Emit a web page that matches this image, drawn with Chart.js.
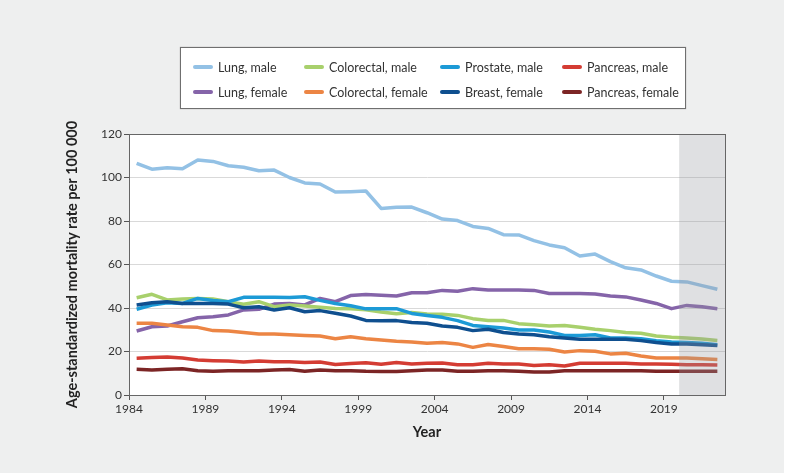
<!DOCTYPE html>
<html>
<head>
<meta charset="utf-8">
<script src="https://cdn.jsdelivr.net/npm/chart.js@4.4.1/dist/chart.umd.min.js"></script>
<style>
  body { margin: 0; background: #fff; font-family: Lato, sans-serif; }
  #bg { position: absolute; left: 0; top: 0; width: 784px; height: 473px; background: #eeefef; }
  #wrap { position: absolute; left: 0; top: 0; width: 791px; height: 473px; }
  #legend {
    position: absolute; left: 180px; top: 47px; width: 504px; height: 60px;
    background: #fff; border: 1px solid #6f6f6f; box-shadow: 0 0 1px #999;
  }
  .item { position: absolute; display: flex; align-items: center; font-size: 12.5px; color: #333; white-space: nowrap; }
  .item span.sw { display: inline-block; width: 20px; height: 4px; border-radius: 2px; margin-right: 5px; }
</style>
</head>
<body>
<div id="bg"></div>
<div id="wrap"><canvas id="chart"></canvas></div>
<div id="legend"></div>
<script>
const YEARS = [];
for (let y = 1984; y <= 2022; y++) YEARS.push(y);
const TICK_YEARS = [1984, 1989, 1994, 1999, 2004, 2009, 2014, 2019];
const PROJECTION_START = 2020;

const LUNG_MALE = [106.5, 103.8, 104.5, 104, 108, 107.4, 105.4, 104.7, 103.1, 103.4, 100, 97.5, 97, 93.3, 93.5, 93.8, 85.8, 86.3, 86.4, 83.8, 80.9, 80.2, 77.5, 76.6, 73.7, 73.6, 71, 69, 67.7, 63.9, 64.8, 61.3, 58.5, 57.5, 54.7, 52.3, 52, 50.3, 48.6];
const COLORECTAL_MALE = [44.7, 46.3, 43.7, 44.1, 44.4, 44.1, 42.9, 41.7, 42.9, 40.6, 41.4, 40.9, 40.3, 39.8, 39.6, 39.2, 38.2, 37.4, 37.9, 37.2, 37.1, 36.6, 35.1, 34.3, 34.3, 32.8, 32.3, 31.7, 32, 31.1, 30.2, 29.6, 28.7, 28.4, 27.1, 26.5, 26.2, 25.7, 25.1];
const PROSTATE_MALE = [39.4, 41.4, 42.4, 42.1, 44.4, 43.4, 42.9, 44.9, 44.9, 44.9, 44.8, 45.2, 43.5, 42.1, 41, 39.6, 39.6, 39.7, 37.5, 36.6, 35.7, 34.2, 32, 31.4, 30.8, 29.9, 29.9, 29, 27.4, 27.4, 27.7, 26.2, 26.2, 25.9, 25, 24.4, 24.1, 23.8, 23.1];
const PANCREAS_MALE = [16.9, 17.2, 17.5, 17, 16.1, 15.8, 15.6, 15.2, 15.6, 15.3, 15.3, 14.9, 15.2, 14, 14.5, 14.8, 14.1, 14.9, 14.3, 14.6, 14.7, 13.9, 13.9, 14.6, 14.3, 14.3, 13.6, 13.9, 13.3, 14.6, 14.6, 14.6, 14.6, 14.3, 14.3, 14.1, 13.9, 13.9, 13.8];
const LUNG_FEMALE = [29.4, 31.4, 31.7, 33.7, 35.5, 36, 36.8, 39.1, 39.4, 41.8, 42.1, 41.4, 44.4, 42.9, 45.7, 46.2, 45.9, 45.5, 47, 47, 48.1, 47.7, 48.9, 48.3, 48.3, 48.3, 48.1, 46.7, 46.7, 46.7, 46.4, 45.5, 45.1, 43.7, 42.1, 39.7, 41.2, 40.6, 39.7];
const COLORECTAL_FEMALE = [33, 33, 32.2, 31.4, 31.1, 29.6, 29.4, 28.7, 28, 28, 27.7, 27.4, 27.1, 25.9, 26.8, 25.9, 25.3, 24.7, 24.4, 23.8, 24.1, 23.5, 21.9, 23.2, 22.3, 21.3, 21.3, 21, 19.8, 20.4, 20.1, 18.9, 19.2, 17.9, 17, 17, 17, 16.7, 16.3];
const BREAST_FEMALE = [41.4, 42.4, 42.9, 42.1, 42.1, 42.1, 41.8, 40.1, 40.6, 39.1, 40.1, 38.3, 38.8, 37.6, 36.3, 34.3, 34.1, 34.2, 33.3, 33, 31.7, 31.1, 29.6, 30.2, 28.7, 28, 27.7, 26.8, 26.2, 25.6, 25.6, 25.6, 25.6, 25, 24.1, 23.4, 23.4, 23.1, 22.8];
const PANCREAS_FEMALE = [11.8, 11.5, 11.8, 12.1, 11.2, 10.9, 11.2, 11.2, 11.2, 11.5, 11.7, 10.9, 11.5, 11.1, 11.2, 10.9, 10.8, 10.8, 11.2, 11.5, 11.5, 10.9, 10.9, 11.2, 11.2, 10.9, 10.6, 10.6, 11.2, 11.2, 11.2, 11.2, 11.2, 11.2, 10.9, 10.9, 10.9, 10.9, 10.9];

// legend grid is row-major: males on top row, females below
const SERIES = [
  { label: 'Lung, male', data: LUNG_MALE, color: '#93c1e5', order: 8 },
  { label: 'Colorectal, male', data: COLORECTAL_MALE, color: '#a8d06c', order: 6 },
  { label: 'Prostate, male', data: PROSTATE_MALE, color: '#1c9ad6', order: 4 },
  { label: 'Pancreas, male', data: PANCREAS_MALE, color: '#d43c33', order: 2 },
  { label: 'Lung, female', data: LUNG_FEMALE, color: '#8564a9', order: 7 },
  { label: 'Colorectal, female', data: COLORECTAL_FEMALE, color: '#ec8544', order: 5 },
  { label: 'Breast, female', data: BREAST_FEMALE, color: '#0f4f8f', order: 3 },
  { label: 'Pancreas, female', data: PANCREAS_FEMALE, color: '#7c2525', order: 1 }
];

const FONT = 'Lato, sans-serif';

// white plot area, grey projection band and frame
const plotFrame = {
  id: 'plotFrame',
  beforeDatasetsDraw(chart) {
    const { ctx, chartArea: a } = chart;
    ctx.save();
    ctx.fillStyle = '#fff';
    ctx.globalCompositeOperation = 'destination-over';
    ctx.fillRect(a.left, a.top, a.right - a.left, a.bottom - a.top);
    ctx.restore();
  },
  afterDatasetsDraw(chart) {
    const { ctx, chartArea: a, scales } = chart;
    const x0 = scales.x.getPixelForValue(PROJECTION_START);
    ctx.save();
    ctx.fillStyle = 'rgba(150,152,158,0.3)';
    ctx.fillRect(x0, a.top, a.right - x0, a.bottom - a.top);
    ctx.strokeStyle = '#666';
    ctx.lineWidth = 1;
    ctx.strokeRect(Math.round(a.left) + 0.5, Math.round(a.top) + 0.5, Math.round(a.right - a.left), Math.round(a.bottom - a.top));
    ctx.restore();
  }
};

const chart = new Chart(document.getElementById('chart'), {
  type: 'line',
  data: {
    datasets: SERIES.map(s => ({
      label: s.label,
      data: YEARS.map((yr, i) => ({ x: yr + 0.5, y: s.data[i] })),
      borderColor: s.color,
      backgroundColor: s.color,
      borderWidth: 3.5,
      pointRadius: 0,
      tension: 0,
      borderJoinStyle: 'round',
      order: s.order
    }))
  },
  options: {
    responsive: true,
    maintainAspectRatio: false,
    animation: false,
    layout: { padding: { left: 60, top: 134, right: 66, bottom: 28 } },
    plugins: { legend: { display: false }, tooltip: { enabled: false } },
    scales: {
      x: {
        type: 'linear',
        min: 1984,
        max: 2023,
        afterBuildTicks: scale => { scale.ticks = TICK_YEARS.map(v => ({ value: v })); },
        afterFit: scale => { scale.height = 50; },
        grid: { drawOnChartArea: false, tickLength: 5, tickColor: '#555' },
        border: { color: '#666' },
        ticks: { color: '#333', font: { family: FONT, size: 12 }, padding: 2, maxRotation: 0, callback: v => String(v) },
        title: { display: true, text: 'Year', color: '#222', font: { family: FONT, size: 14.5, weight: 'bold' } }
      },
      y: {
        min: 0,
        max: 120,
        afterFit: scale => { scale.width = 69; },
        grid: { color: '#d9d9d9', tickLength: 5, tickColor: '#555' },
        border: { color: '#666' },
        ticks: { stepSize: 20, color: '#333', font: { family: FONT, size: 12 }, padding: 2 },
        title: { display: true, text: 'Age-standardized mortality rate per 100 000', color: '#222', font: { family: FONT, size: 14.5, weight: 'bold' } }
      }
    }
  },
  plugins: [plotFrame]
});

// legend, 4 columns x 2 rows
const COL_X = [12, 123, 259, 381];
const ROW_Y = [19, 44];
const legend = document.getElementById('legend');
chart.data.datasets.forEach((ds, i) => {
  const el = document.createElement('div');
  el.className = 'item';
  el.style.left = COL_X[i % 4] + 'px';
  el.style.top = (ROW_Y[Math.floor(i / 4)] - 8) + 'px';
  el.style.height = '16px';
  el.innerHTML = '<span class="sw" style="background:' + ds.borderColor + '"></span>' + ds.label;
  legend.appendChild(el);
});
</script>
</body>
</html>
